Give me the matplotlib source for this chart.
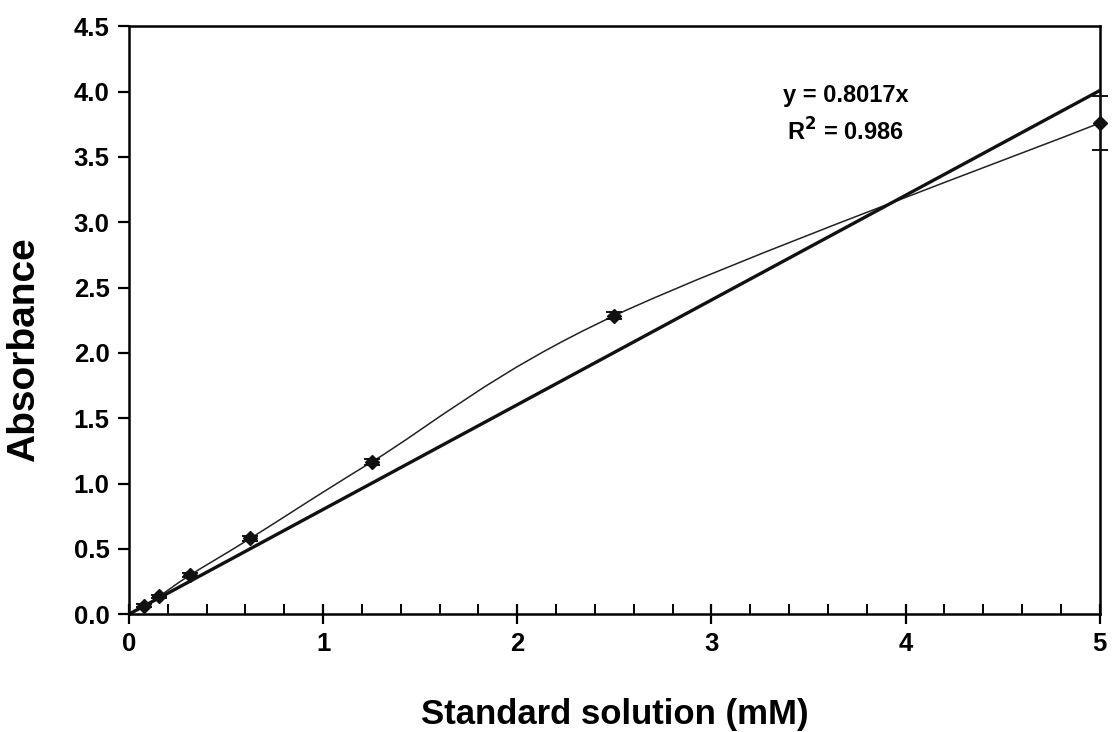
import numpy as np
import matplotlib.pyplot as plt
from matplotlib.path import Path
from matplotlib.patches import PathPatch
from matplotlib.ticker import MultipleLocator

plt.rcParams['font.family'] = ['Liberation Sans', 'DejaVu Sans']
plt.rcParams['font.weight'] = 'bold'

# standard dilution series (mM) and measured absorbance
conc = [0.078125, 0.15625, 0.3125, 0.625, 1.25, 2.5, 5.0]
absorb = [0.065, 0.137, 0.297, 0.58, 1.165, 2.285, 3.76]
err = [0.01, 0.01, 0.015, 0.02, 0.025, 0.025, 0.21]
slope = 0.8017
r2 = 0.986

fig = plt.figure(figsize=(11.12, 7.32), dpi=100)
ax = fig.add_axes([0.116, 0.161, 0.873, 0.803])

# smoothed line through the points (Excel style bezier)
x = np.array(conc)
y = np.array(absorb)
verts = [(x[0], y[0])]
codes = [Path.MOVETO]
n = len(x)
for i in range(n - 1):
    i0 = max(i - 1, 0)
    i3 = min(i + 2, n - 1)
    c1 = (x[i] + (x[i + 1] - x[i0]) / 6, y[i] + (y[i + 1] - y[i0]) / 6)
    c2 = (x[i + 1] - (x[i3] - x[i]) / 6, y[i + 1] - (y[i3] - y[i]) / 6)
    verts += [c1, c2, (x[i + 1], y[i + 1])]
    codes += [Path.CURVE4] * 3
ax.add_patch(PathPatch(Path(verts, codes), fill=False, lw=1.1, color='#222222'))

# linear trendline through origin
xt = np.array([0, 5])
ax.plot(xt, slope * xt, color='#111111', lw=2.4)

ax.errorbar(conc, absorb, yerr=err, fmt='D', color='#111111', ms=7,
            capsize=6, elinewidth=1, capthick=1.4, clip_on=False, zorder=5)

ax.text(3.69, 3.97, f"y = {slope}x", ha='center', va='center', fontsize=17,
        fontweight='bold')
ax.text(3.69, 3.69, f"R$^{{\\mathbf{{2}}}}$ = {r2}", ha='center', va='center',
        fontsize=17, fontweight='bold')

ax.set_xlim(0, 5)
ax.set_ylim(0, 4.5)
ax.xaxis.set_major_locator(MultipleLocator(1))
ax.xaxis.set_minor_locator(MultipleLocator(0.2))
ax.set_yticks(np.arange(0, 4.51, 0.5))
ax.set_yticklabels([f"{v:.1f}" for v in np.arange(0, 4.51, 0.5)])
ax.tick_params(axis='x', which='major', direction='inout', length=14, width=1.6,
               labelsize=18.5, pad=6)
ax.tick_params(axis='x', which='minor', direction='in', length=7, width=1.4)
ax.tick_params(axis='y', which='major', direction='out', length=8, width=1.6,
               labelsize=18.5, pad=6)
for s in ax.spines.values():
    s.set_linewidth(1.8)

ax.set_xlabel("Standard solution (mM)", fontsize=25, fontweight='bold', labelpad=30)
ax.set_ylabel("Absorbance", fontsize=28, fontweight='bold')
ax.yaxis.set_label_coords(-0.09, 0.45)

fig.savefig("out.png", dpi=100)
